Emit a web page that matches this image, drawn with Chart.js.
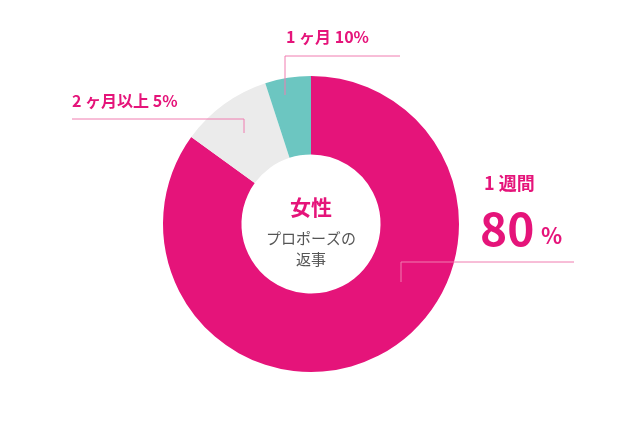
<!DOCTYPE html><html><head><meta charset="utf-8">
<script src="https://cdn.jsdelivr.net/npm/chart.js@4"></script>
<style>body{margin:0;background:#fff}#w{width:636px;height:426px}</style></head><body>
<div id="w"><canvas id="c"></canvas></div>
<script>
const categories=['1週間','2ヶ月以上','1ヶ月'];
const values=[85,10,5];
const colors=['#e5147a','#ebebeb','#6cc6c1'];
const F='"Noto Sans CJK JP","Noto Sans",sans-serif';
const overlay={id:'overlay',afterDraw(ch){const x=ch.ctx;x.save();
x.strokeStyle='#f07cb0';x.lineWidth=1;
x.beginPath();
x.moveTo(400,56);x.lineTo(285,56);x.lineTo(285,95);
x.moveTo(72,119);x.lineTo(244,119);x.lineTo(244,133);
x.moveTo(574,262);x.lineTo(401,262);x.lineTo(401,282);
x.stroke();
x.fillStyle='#e5147a';x.textBaseline='alphabetic';
x.font='bold 16px '+F;x.textAlign='left';
x.fillText('1 ヶ月 10%',286,43);
x.fillText('2 ヶ月以上 5%',72,107);
x.font='bold 18px '+F;x.fillText('1 週間',484,190);
x.font='bold 46px '+F;x.fillText('80',480,246);
x.font='bold 22px '+F;x.fillText('%',541,244);
x.textAlign='center';
x.font='bold 21px '+F;x.fillText('女性',311,215);
x.fillStyle='#555';x.font='15px '+F;
x.fillText('プロポーズの',311,244);x.fillText('返事',311,265);
x.restore();}};
new Chart(document.getElementById('c'),{type:'doughnut',
data:{labels:categories,datasets:[{data:values,backgroundColor:colors,borderWidth:0}]},
options:{responsive:true,maintainAspectRatio:false,animation:false,cutout:'47%',
layout:{padding:{left:163,right:177,top:76,bottom:54}},
plugins:{legend:{display:false},tooltip:{enabled:false}}},plugins:[overlay]});
</script></body></html>
